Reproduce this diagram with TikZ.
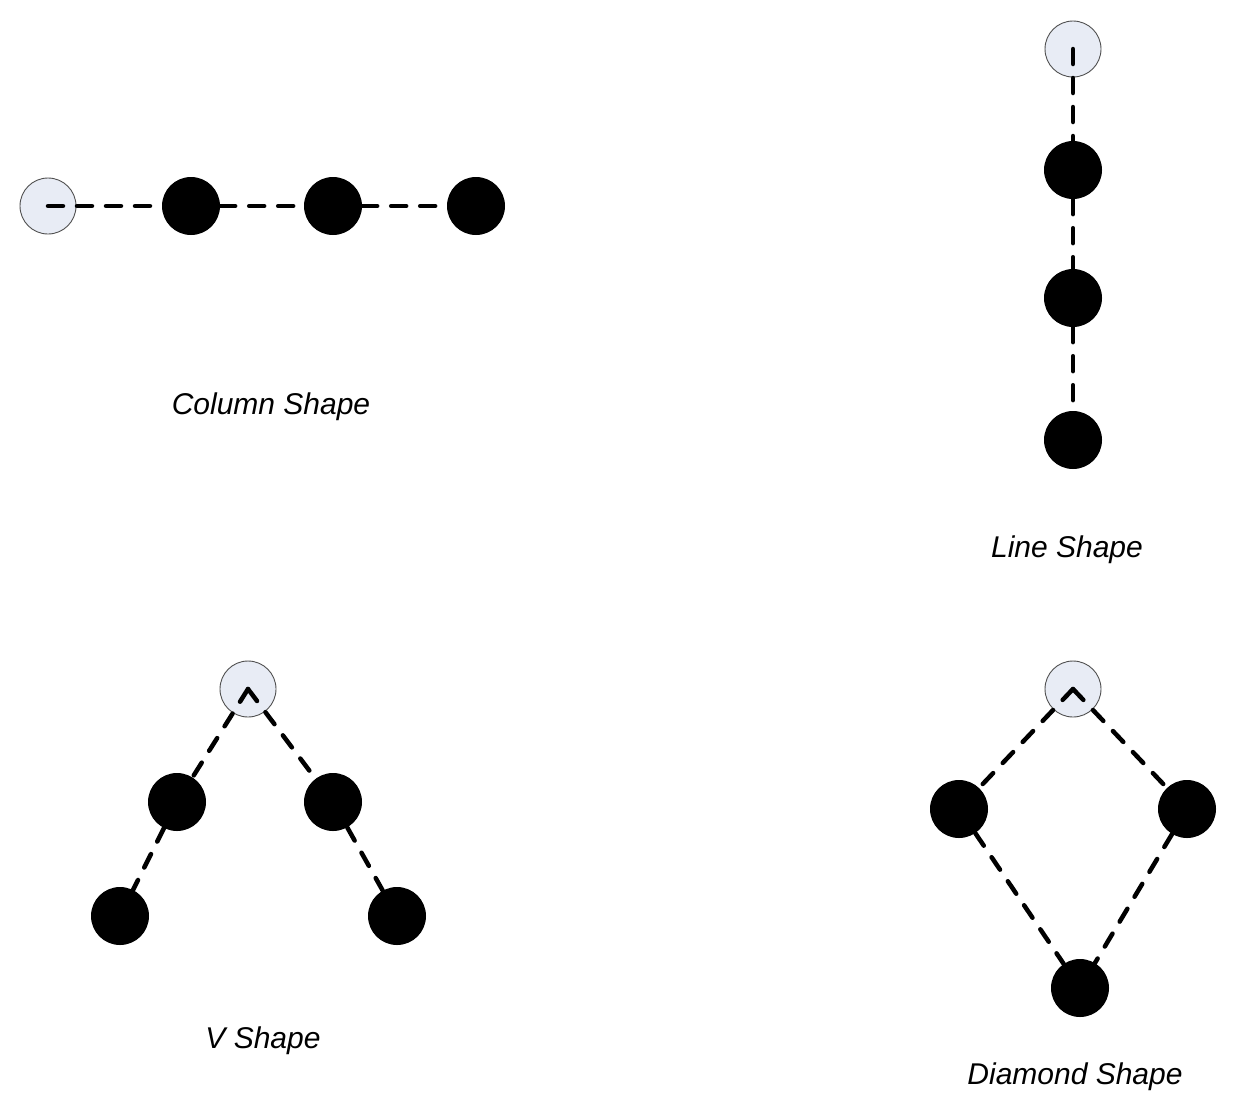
\documentclass[tikz,border=0pt]{standalone}
\usepackage{fontspec}
\setmainfont{Liberation Sans}
\definecolor{leadfill}{HTML}{E8ECF5}
\definecolor{leaddraw}{HTML}{505050}
\begin{document}
\begin{tikzpicture}[x=1pt,y=-1pt,
  leader/.style={circle,draw=leaddraw,line width=0.9pt,fill=leadfill,minimum size=56pt,inner sep=0pt},
  member/.style={circle,fill=black,minimum size=58pt,inner sep=0pt},
  link/.style={line width=4.5pt,line cap=round,dash pattern=on 15pt off 14pt},
  captext/.style={font=\fontsize{30}{36}\selectfont\itshape}]
\useasboundingbox (0,0) rectangle (1242,1112);
% Column shape
\node[leader] (cL) at (48,206) {};
\node[member] (c1) at (191,206) {};
\node[member] (c2) at (333,206) {};
\node[member] (c3) at (476,206) {};
\draw[link] (cL.center) -- (c1);
\draw[link] (c1) -- (c2);
\draw[link] (c2) -- (c3);
\node[captext] (cT) at (271,407) {Column Shape};
% Line shape
\node[leader] (lL) at (1073,49) {};
\node[member] (l1) at (1073,170) {};
\node[member] (l2) at (1073,298) {};
\node[member] (l3) at (1073,440) {};
\draw[link] (lL.center) -- (l1);
\draw[link] (l1) -- (l2);
\draw[link] (l2) -- (l3);
\node[captext] (lT) at (1067,550) {Line Shape};
% V shape
\node[leader] (vL) at (248,689) {};
\node[member] (v1) at (177,802) {};
\node[member] (v2) at (333,802) {};
\node[member] (v3) at (120,916) {};
\node[member] (v4) at (397,916) {};
\draw[link] (vL.center) -- (v1);
\draw[link] (vL.center) -- (v2);
\draw[link] (v1) -- (v3);
\draw[link] (v2) -- (v4);
\node[captext] (vT) at (263,1041) {V Shape};
% Diamond shape
\node[leader] (dL) at (1073,689) {};
\node[member] (d1) at (959,809) {};
\node[member] (d2) at (1187,809) {};
\node[member] (d3) at (1080,988) {};
\draw[link] (dL.center) -- (d1);
\draw[link] (dL.center) -- (d2);
\draw[link] (d1) -- (d3);
\draw[link] (d2) -- (d3);
\node[captext] (dT) at (1075,1077) {Diamond Shape};
\end{tikzpicture}
\end{document}
